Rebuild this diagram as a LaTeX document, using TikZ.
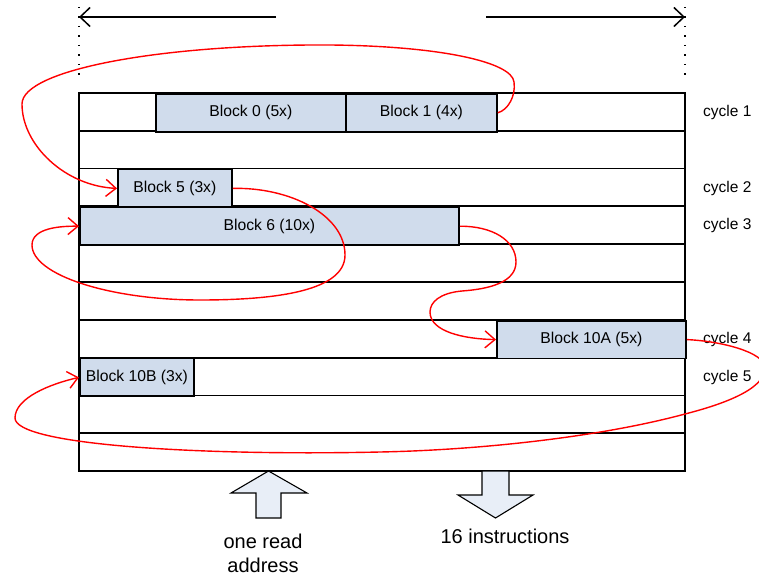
\documentclass[tikz,border=0pt]{standalone}
\usepackage{fontspec}
\setmainfont{Liberation Sans}
\usetikzlibrary{arrows.meta}
\definecolor{blockfill}{RGB}{208,220,236}
\definecolor{arrowfill}{RGB}{232,238,247}
\begin{document}
\begin{tikzpicture}[x=1pt,y=-1pt,
  gridline/.style={line width=1.8pt},
  blockbox/.style={draw,line width=1.8pt,fill=blockfill,inner sep=0pt,anchor=north west,
    minimum height=37.8pt,font=\fontsize{15.7}{18}\selectfont},
  cyclelabel/.style={anchor=west,inner sep=0pt,font=\fontsize{15.5}{18}\selectfont},
  flow/.style={red,line width=1.4pt,-{Straight Barb[length=10pt,width=17pt,line width=1.4pt]}},
  span/.style={line width=1.5pt,-{Straight Barb[length=10pt,width=19pt,line width=1.5pt]}},
  guide/.style={line width=1.2pt,dash pattern=on 1.2pt off 8.3pt},
  bigarrow/.style={draw,line width=1.1pt,fill=arrowfill},
  caption/.style={inner sep=0pt,align=center,font=\fontsize{20}{24}\selectfont}
]
\useasboundingbox (0,0) rectangle (759,577);

% grid
\draw[gridline] (79,93) rectangle (685,471);
\foreach \yy in {130.8,168.6,206.4,244.2,282,319.8,357.6,395.4,433.2}
  \draw[gridline] (79,\yy) -- (685,\yy);

% blocks
\node[blockbox,minimum width=190pt] (b0) at (155,93) {Block 0 (5x)};
\node[blockbox,minimum width=151pt] (b1) at (345,93) {Block 1 (4x)};
\node[blockbox,minimum width=114pt] (b5) at (117,168.6) {Block 5 (3x)};
\node[blockbox,minimum width=379pt] (b6) at (79,206.4) {Block 6 (10x)};
\node[blockbox,minimum width=189pt] (b10a) at (496,319.8) {Block 10A (5x)};
\node[blockbox,minimum width=114pt] (b10b) at (79,357.6) {Block 10B (3x)};

% cycle labels
\node[cyclelabel] (c1) at (703,112) {cycle 1};
\node[cyclelabel] (c2) at (703,188) {cycle 2};
\node[cyclelabel] (c3) at (703,225) {cycle 3};
\node[cyclelabel] (c4) at (703,339) {cycle 4};
\node[cyclelabel] (c5) at (703,377) {cycle 5};

% top span arrows and guides
\coordinate (la) at (276,17);
\coordinate (lb) at (79,17);
\coordinate (ra) at (486,17);
\coordinate (rb) at (685,17);
\draw[span] (la) -- (lb);
\draw[span] (ra) -- (rb);
\draw[guide] (79,7) -- (79,77);
\draw[guide] (685,7) -- (685,77);

% red flow curves
\draw[flow] (b1.east) .. controls (508,110) and (516,96) .. (514,82)
  .. controls (512,62) and (440,46) .. (330,45)
  .. controls (160,44) and (22,70) .. (22,104)
  .. controls (22,145) and (65,186) .. (b5.west);
\draw[flow] (b5.east) .. controls (290,187) and (345,215) .. (345,255)
  .. controls (345,290) and (280,300) .. (200,300)
  .. controls (110,300) and (32,275) .. (32,245)
  .. controls (32,228) and (60,226) .. (b6.west);
\draw[flow] (b6.east) .. controls (492,226) and (516,240) .. (516,262)
  .. controls (516,282) and (490,289) .. (462,291)
  .. controls (440,293) and (430,302) .. (430,312)
  .. controls (430,332) and (465,339) .. (b10a.west);
\draw[flow] (b10a.east) .. controls (720,341) and (765,352) .. (765,368)
  .. controls (765,390) and (720,405) .. (685,414)
  .. controls (600,437) and (480,450) .. (380,452)
  .. controls (200,456) and (15,445) .. (15,418)
  .. controls (15,398) and (50,384) .. (b10b.west);

% bottom block arrows
\draw[bigarrow] (268.5,471) -- (231,493) -- (256,493) -- (256,518) -- (281,518)
  -- (281,493) -- (307,493) -- cycle;
\draw[bigarrow] (482,471) -- (509,471) -- (509,495) -- (533,495) -- (495.5,518)
  -- (458,495) -- (482,495) -- cycle;

% captions
\node[caption] (readaddr) at (263,553) {one read\\address};
\node[caption] (instr) at (505,536) {16 instructions};
\end{tikzpicture}
\end{document}
